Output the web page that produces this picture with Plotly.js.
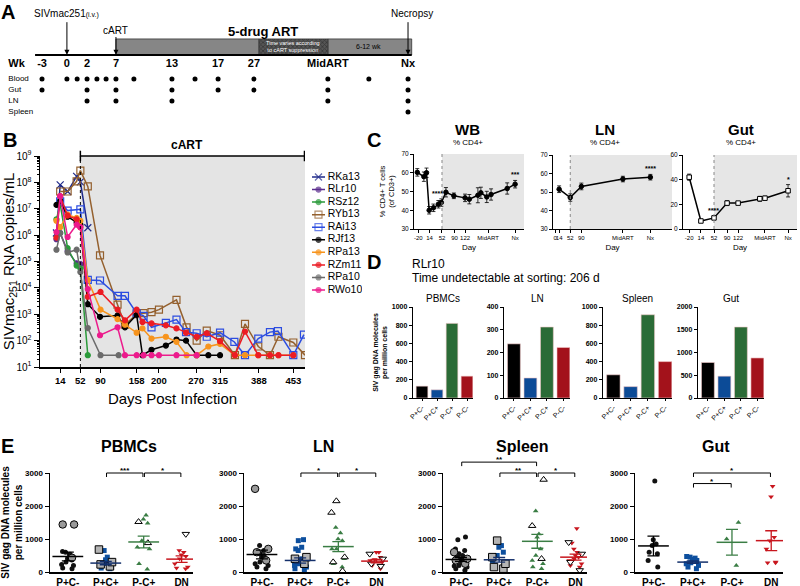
<!DOCTYPE html>
<html>
<head>
<meta charset="utf-8">
<script src="https://cdn.plot.ly/plotly-3.0.1.min.js"></script>
<style>
  html, body { margin: 0; padding: 0; background: #fff; }
  #fig { width: 800px; height: 586px; }
</style>
</head>
<body>
<div id="fig"></div>
<script>
// ---------- A: sampling schedule (schematic timeline positions) ----------
var tpWeek = ['-3', '0', '1', '2', '3', '4', '7', '9', '13', '15', '17', '27', 'MidART', 'post', 'Nx'];
var tpPos = [0, 6.8, 9.6, 12.3, 15, 17.5, 20.2, 25.1, 35.5, 41.8, 48.1, 57.9, 78.1, 89.3, 100];
var wkShown = ['-3', '0', '2', '7', '13', '17', '27', 'MidART', 'Nx'];
var bloodWk = ['-3', '0', '1', '2', '3', '4', '7', '9', '13', '15', '17', '27', 'MidART', 'post', 'Nx'];
var gutWk = ['-3', '2', '7', '13', '17', '27', 'MidART', 'Nx'];
var lnWk = ['2', '7', '13', 'MidART', 'Nx'];
var spleenWk = ['Nx'];
var rowNames = ['Blood', 'Gut', 'LN', 'Spleen'];
var artVaryStart = 59.3, artEndPos = 101;

// ---------- B: plasma viral load ----------
var rka13Day = [7, 14, 28, 45, 52, 66];
var rka13Vl = [1.2e6, 8e7, 4.5e7, 1.7e8, 1.05e8, 1.9e6];
var rlr10Day = [7, 14, 28, 45, 52];
var rlr10Vl = [7e5, 1.2e6, 2.5e5, 8.5e4, 8e4];
var rsz12Day = [7, 14, 28, 45, 52, 66];
var rsz12Vl = [4e6, 1.5e7, 3.2e5, 7e4, 5.5e4, 28];
var ryb13Day = [14, 28, 45, 52, 66, 89, 122, 136, 158, 171, 186, 200, 233, 252, 271, 290, 315, 343, 362, 387, 409, 425, 453, 475];
var ryb13Vl = [4.5e7, 4.5e7, 1.1e8, 2.8e8, 7e7, 1.7e5, 2.3e3, 4e2, 1e3, 1.1e3, 1.2e3, 1.5e3, 3.5e3, 3.2e2, 1e2, 2.4e2, 1.6e2, 28, 4.3e2, 60, 28, 1.4e2, 85, 28];
var rai13Day = [14, 28, 52, 66, 89, 122, 136, 158, 171, 186, 213, 233, 251, 271, 290, 315, 342, 362, 387, 409, 424, 453, 473];
var rai13Vl = [1.9e7, 8.5e6, 9.5e6, 2e4, 1.9e4, 5e3, 5e3, 1.1e3, 8.7e2, 3.2e2, 4.7e2, 6.3e2, 2.1e2, 1.9e2, 1.4e2, 2e2, 89, 28, 1.2e2, 2.1e2, 2.3e2, 28, 1.7e2];
var rjf13Day = [7, 14, 28, 45, 52, 66, 89, 122, 136, 158, 169, 186, 213, 233, 251, 271, 293, 315];
var rjf13Vl = [1.4e7, 2e7, 5e6, 3e6, 2.5e6, 2.4e3, 8e2, 9e2, 3.2e2, 9.5e2, 28, 45, 65, 1.1e2, 1e2, 28, 28, 28];
var rpa13Day = [7, 14, 28, 45, 52, 66, 90, 122, 136, 158, 169, 186, 213, 233, 252, 271, 293, 315, 343, 362, 387, 409, 425, 453];
var rpa13Vl = [3.5e6, 2e6, 6e6, 4.5e6, 3.5e6, 2e4, 1.5e3, 6.5e2, 4e2, 2e2, 2.9e2, 1.2e2, 1.4e2, 90, 28, 28, 60, 75, 28, 28, 28, 28, 28, 28];
var rzm11Day = [7, 14, 28, 45, 52, 66, 90, 122, 136, 158, 169, 186, 213, 233, 251, 271, 290, 315, 343, 362, 387, 409, 425, 453];
var rzm11Vl = [8e5, 3e7, 5.5e6, 4e6, 2e6, 4.6e3, 7e3, 1.5e3, 5.9e2, 1.5e3, 5.1e2, 4.5e2, 3.8e2, 2.9e2, 2e2, 1.4e2, 1.9e2, 95, 28, 2.2e2, 28, 28, 28, 28];
var rpa10Day = [7, 14, 28, 45, 52, 66, 90, 124];
var rpa10Vl = [2.8e5, 1.2e6, 2.2e5, 2.8e5, 4e4, 3e2, 28, 28];
var rwo10Day = [7, 14, 28, 45, 52, 66, 89, 122, 136, 158, 171, 186, 200, 233, 271];
var rwo10Vl = [1.3e6, 3e7, 8.5e5, 2.5e6, 2e6, 9e3, 1.6e2, 3.2e2, 28, 28, 28, 28, 28, 28, 28];
var animals = ['RKa13', 'RLr10', 'RSz12', 'RYb13', 'RAi13', 'RJf13', 'RPa13', 'RZm11', 'RPa10', 'RWo10'];
var bDays = [rka13Day, rlr10Day, rsz12Day, ryb13Day, rai13Day, rjf13Day, rpa13Day, rzm11Day, rpa10Day, rwo10Day];
var bLoads = [rka13Vl, rlr10Vl, rsz12Vl, ryb13Vl, rai13Vl, rjf13Vl, rpa13Vl, rzm11Vl, rpa10Vl, rwo10Vl];
var bTicks = [14, 52, 90, 158, 200, 270, 315, 388, 453];
var artDay = 52;
var detectLimit = 60;

// ---------- C: %CD4+ (x: days; MidART / Nx placed as on the original axes) ----------
var wbX = [-23, -3, 5, 13, 26, 41, 50, 64, 88, 122, 135, 161, 170, 188, 201, 250, 274];
var wbPct = [60.2, 57.9, 60, 40, 41.3, 43.2, 44.1, 49.6, 47.7, 46.6, 45.9, 48, 49.3, 47.1, 48.4, 51.6, 53.9];
var wbErr = [2, 2.5, 2.5, 2, 2, 2, 2, 2.5, 1.5, 2, 2.5, 4, 3, 3, 3, 3, 2];
var wbTickX = [-20, 14, 52, 90, 122, 192, 274];
var wbTickTxt = ['-20', '14', '52', '90', '122', 'MidART', 'Nx'];
var lnX = [14, 52, 90, 232, 326];
var lnPct = [51.5, 47, 53, 57, 58];
var lnErr = [1.8, 2, 1.8, 1.5, 1.5];
var lnTickX = [0, 14, 52, 90, 232, 326];
var lnTickTxt = ['0', '14', '52', '90', 'MidART', 'Nx'];
var gutX = [-20, 14, 52, 90, 122, 185, 200, 267];
var gutPct = [42, 6.5, 9, 21, 21, 24.5, 25, 31];
var gutErr = [2.5, 1, 1.5, 2, 1, 2, 1.5, 5];
var gutTickX = [-20, 14, 52, 90, 122, 200, 267];
var gutTickTxt = ['-20', '14', '52', '90', '122', 'MidART', 'Nx'];

// ---------- D: sorted subsets, RLr10 ----------
var dCats = ['P+C-', 'P+C+', 'P-C+', 'P-C-'];
var dPbmc = [130, 90, 820, 240];
var dLn = [238, 88, 312, 222];
var dSpleen = [255, 125, 915, 400];
var dGut = [780, 480, 1560, 880];

// ---------- E: all animals ----------
var eCats = ['P+C-', 'P+C+', 'P-C+', 'DN'];
var ePbmcSolid = [[620, 600, 540, 410, 360, 300, 230, 200, 120, 100], [650, 450, 370, 280, 260, 200, 150, 120, 100], [1720, 1600, 1480, 950, 750, 700, 250, 80], [650, 600, 520, 480, 400, 250, 150, 120, 100]];
var ePbmcOpen = [[1440, 1440, 430], [680, 300, 230, 170], [1520, 880], [1150]];
var ePbmcMean = [470, 270, 910, 390];
var ePbmcSem = [130, 50, 180, 100];
var eLnSolid = [[800, 650, 600, 550, 500, 450, 400, 300, 250, 200, 150, 100], [980, 950, 750, 700, 650, 400, 350, 300, 250, 200, 150, 100, 50], [1350, 1180, 1000, 950, 700, 700, 400, 250, 150], [600, 600, 450, 380, 350, 300, 200, 100]];
var eLnOpen = [[2520, 700, 600, 350], [450, 400, 250], [2150, 1800, 450, 300, 30], [550, 400, 250, 180]];
var eLnMean = [530, 350, 770, 330];
var eLnSem = [130, 80, 150, 50];
var eSpleenSolid = [[1060, 980, 700, 650, 550, 500, 450, 420, 380, 320, 300, 200, 180, 150, 100, 50], [930, 800, 750, 600, 500, 350, 300, 200, 100], [1850, 1150, 1050, 700, 500, 350, 250, 150, 100], [1320, 880, 700, 600, 500, 450, 400, 350, 250, 200, 150]];
var eSpleenOpen = [[600, 400, 350, 250], [950, 450, 250, 150, 100], [2800, 1400, 400], [900, 550, 300, 50]];
var eSpleenMean = [380, 370, 930, 450];
var eSpleenSem = [60, 70, 210, 90];
var eGutSolid = [[2760, 980, 850, 800, 600, 550, 350, 150], [470, 450, 420, 380, 350, 280, 250, 200, 150, 100], [1500, 1000, 200], [2600, 2280, 1050, 950, 700, 300, 280, 280]];
var eGutOpen = [[], [], [], []];
var eGutMean = [790, 300, 900, 950];
var eGutSem = [300, 40, 390, 300];
// significance bars: [from, to, label, height]
var ePbmcSig = [[1, 2, '***', 3000], [2, 3, '*', 3000]];
var eLnSig = [[1, 2, '*', 3000], [2, 3, '*', 3000]];
var eSpleenSig = [[0, 2, '**', 3330], [1, 2, '**', 3000], [2, 3, '*', 3000]];
var eGutSig = [[1, 3, '*', 3000], [1, 2, '*', 2680]];

// ---------- layout helpers ----------
var FONT = 'Liberation Sans, Arial, sans-serif';
var W = 800, H = 586;
function xd(a, b) { return [a / W, b / W]; }
function yd(t, b) { return [1 - b / H, 1 - t / H]; }
function posOf(w) { return tpPos[tpWeek.indexOf(w)]; }

var traces = [];
var shapes = [];
var ann = [];
var layout = {
  width: W, height: H,
  margin: {l: 0, r: 0, t: 0, b: 0},
  showlegend: false,
  paper_bgcolor: '#fff', plot_bgcolor: 'rgba(0,0,0,0)',
  font: {family: FONT, color: '#000'},
  barmode: 'overlay', boxmode: 'overlay', bargap: 0.22,
  shapes: shapes, annotations: ann
};

function axis(o) {
  var a = {showline: true, linecolor: '#000', linewidth: 1, ticks: 'outside', ticklen: 3,
    tickcolor: '#000', tickwidth: 1, showgrid: false, zeroline: false, fixedrange: true,
    tickfont: {size: 7, family: FONT}};
  for (var k in o) a[k] = o[k];
  return a;
}
function label(x, y, text, size, bold, xanchor) {
  ann.push({xref: 'paper', yref: 'paper', x: x / W, y: 1 - y / H, text: text, showarrow: false,
    xanchor: xanchor || 'center', yanchor: 'middle',
    font: {size: size, family: FONT, weight: bold ? 'bold' : 'normal', color: '#000'}});
}

// ================= Panel A =================
layout.xaxis = {domain: xd(0, 460), range: [-11.48, 114.2], visible: false, anchor: 'y', fixedrange: true};
layout.yaxis = {domain: yd(0, 122), range: [4.91, -6.18], visible: false, anchor: 'x', fixedrange: true};

var barY = -1.91;
// solid ART phases
traces.push({
  type: 'bar', orientation: 'h', xaxis: 'x', yaxis: 'y',
  y: [barY, barY],
  base: [posOf('7'), posOf('MidART')],
  x: [artVaryStart - posOf('7'), artEndPos - posOf('MidART')],
  width: 1.46,
  marker: {color: '#868686', line: {color: '#333', width: 0.8}},
  hoverinfo: 'skip'
});
// variable-length phase (hatched)
traces.push({
  type: 'bar', orientation: 'h', xaxis: 'x', yaxis: 'y',
  y: [barY], base: [artVaryStart], x: [posOf('MidART') - artVaryStart],
  width: 1.46,
  marker: {color: '#555555', line: {color: '#333', width: 0.8},
    pattern: {shape: 'x', fgcolor: '#1a1a1a', fillmode: 'overlay', size: 3, solidity: 0.45}},
  hoverinfo: 'skip'
});
shapes.push({type: 'line', xref: 'x', yref: 'y', x0: -1.9, x1: artEndPos, y0: -1.18, y1: -1.18,
  line: {color: '#000', width: 2}});

traces.push({
  type: 'scatter', mode: 'text', xaxis: 'x', yaxis: 'y',
  x: wkShown.map(posOf), y: wkShown.map(function () { return -0.36; }),
  text: wkShown, textfont: {size: 11, family: FONT, weight: 'bold'}, hoverinfo: 'skip'
});
traces.push({
  type: 'scatter', mode: 'text', xaxis: 'x', yaxis: 'y', x: [-9.2], y: [-0.36], text: ['Wk'],
  textposition: 'middle right', textfont: {size: 11, family: FONT, weight: 'bold'}, hoverinfo: 'skip'
});
traces.push({
  type: 'scatter', mode: 'text', xaxis: 'x', yaxis: 'y',
  x: rowNames.map(function () { return -9.2; }), y: [1, 2, 3, 4], text: rowNames,
  textposition: 'middle right', textfont: {size: 8, family: FONT}, hoverinfo: 'skip'
});
[bloodWk, gutWk, lnWk, spleenWk].forEach(function (wks, r) {
  traces.push({
    type: 'scatter', mode: 'markers', xaxis: 'x', yaxis: 'y',
    x: wks.map(posOf), y: wks.map(function () { return r + 1; }),
    marker: {color: '#000', size: 5}, hoverinfo: 'skip'
  });
});
function arrowA(pos, top) {
  ann.push({xref: 'x', yref: 'y', axref: 'x', ayref: 'y', x: pos, y: -1.2, ax: pos, ay: top,
    text: '', showarrow: true, arrowhead: 2, arrowsize: 1, arrowwidth: 1, arrowcolor: '#000'});
}
arrowA(posOf('0'), -4.3);
arrowA(posOf('7'), -2.95);
arrowA(posOf('Nx'), -4.3);
ann.push({xref: 'x', yref: 'y', x: posOf('0'), y: -4.95, text: 'SIVmac251<span style="font-size:7px">(i.v.)</span>',
  showarrow: false, font: {size: 10, family: FONT}, xanchor: 'center', yanchor: 'middle'});
ann.push({xref: 'x', yref: 'y', x: posOf('Nx') + 1, y: -4.95, text: 'Necropsy',
  showarrow: false, font: {size: 10, family: FONT}, xanchor: 'center', yanchor: 'middle'});
ann.push({xref: 'x', yref: 'y', x: posOf('7'), y: -3.4, text: 'cART',
  showarrow: false, font: {size: 10, family: FONT}, xanchor: 'center', yanchor: 'middle'});
ann.push({xref: 'x', yref: 'y', x: 60.5, y: -3.3, text: '5-drug ART',
  showarrow: false, font: {size: 13, family: FONT, weight: 'bold'}, xanchor: 'center', yanchor: 'middle'});
ann.push({xref: 'x', yref: 'y', x: (artVaryStart + posOf('MidART')) / 2, y: barY,
  text: 'Time varies according<br>to cART suppression', showarrow: false,
  font: {size: 5.5, family: FONT, color: '#fff'}, xanchor: 'center', yanchor: 'middle'});
ann.push({xref: 'x', yref: 'y', x: posOf('post'), y: barY, text: '6-12 wk', showarrow: false,
  font: {size: 7, family: FONT}, xanchor: 'center', yanchor: 'middle'});

// ================= Panel B =================
var bColors = ['#1f2a8a', '#5b2d8e', '#2a9a3a', '#94602e', '#2c4de0', '#000000', '#f7941d', '#ec1c24', '#6b6b6b', '#ec1b8c'];
var bSymbols = ['x-thin-open', 'circle', 'circle', 'square-open', 'square-open', 'circle', 'circle', 'circle', 'circle', 'circle'];
var bSizes = [7, 5, 5, 7, 7, 5, 5, 5, 5, 5];

layout.xaxis2 = axis({domain: xd(40, 305), range: [-24, 475], anchor: 'y2', linewidth: 1.5, ticklen: 4,
  tickmode: 'array', tickvals: bTicks, tickfont: {size: 9.5, family: FONT, weight: 'bold'},
  title: {text: 'Days Post Infection', font: {size: 15, family: FONT}, standoff: 8}});
layout.yaxis2 = axis({domain: yd(156, 367), type: 'log', range: [1, 9], anchor: 'x2', linewidth: 1.5, ticklen: 5,
  tickmode: 'array', tickvals: [1e1, 1e2, 1e3, 1e4, 1e5, 1e6, 1e7, 1e8, 1e9],
  ticktext: ['10<sup>1</sup>', '10<sup>2</sup>', '10<sup>3</sup>', '10<sup>4</sup>', '10<sup>5</sup>', '10<sup>6</sup>', '10<sup>7</sup>', '10<sup>8</sup>', '10<sup>9</sup>'],
  tickfont: {size: 10, family: FONT},
  minor: {ticks: 'outside', ticklen: 2, tickcolor: '#000', dtick: 'D1'},
  title: {text: 'SIVmac<sub>251</sub> RNA copies/mL', font: {size: 15, family: FONT}, standoff: 6}});

shapes.push({type: 'rect', xref: 'x2', yref: 'y2 domain', x0: artDay, x1: 475, y0: 0, y1: 1,
  fillcolor: '#e4e4e4', line: {width: 0}, layer: 'below'});
shapes.push({type: 'line', xref: 'x2', yref: 'y2 domain', x0: artDay, x1: artDay, y0: 0, y1: 1,
  line: {color: '#000', width: 1, dash: 'dot'}});
shapes.push({type: 'line', xref: 'x2 domain', yref: 'y2', x0: 0, x1: 1, y0: Math.log10(detectLimit), y1: Math.log10(detectLimit),
  line: {color: '#000', width: 1, dash: 'dot'}});
shapes.push({type: 'line', xref: 'x2', yref: 'y2 domain', x0: artDay, x1: 474, y0: 1, y1: 1,
  line: {color: '#000', width: 1.5}});
shapes.push({type: 'line', xref: 'x2', yref: 'y2 domain', x0: artDay, x1: artDay, y0: 0.975, y1: 1.025,
  line: {color: '#000', width: 1.5}});
shapes.push({type: 'line', xref: 'x2', yref: 'y2 domain', x0: 474, x1: 474, y0: 0.975, y1: 1.025,
  line: {color: '#000', width: 1.5}});
ann.push({xref: 'x2', yref: 'y2 domain', x: 252, y: 1, yanchor: 'bottom', yshift: 2, text: 'cART',
  showarrow: false, font: {size: 12, family: FONT, weight: 'bold'}});

animals.forEach(function (name, i) {
  traces.push({
    type: 'scatter', mode: 'lines+markers', xaxis: 'x2', yaxis: 'y2', name: name,
    x: bDays[i], y: bLoads[i],
    line: {color: bColors[i], width: 1.5},
    marker: {color: bColors[i], symbol: bSymbols[i], size: bSizes[i], line: {color: bColors[i], width: 1.2}},
    hoverinfo: 'skip'
  });
});

// legend drawn on its own small axis
layout.xaxis3 = {domain: xd(312, 362), range: [0, 4], visible: false, anchor: 'y3', fixedrange: true};
layout.yaxis3 = {domain: yd(170.7, 296.3), range: [9.5, -0.5], visible: false, anchor: 'x3', fixedrange: true};
animals.forEach(function (name, i) {
  traces.push({
    type: 'scatter', mode: 'lines+markers', xaxis: 'x3', yaxis: 'y3',
    x: [0, 0.52, 1.04], y: [i, i, i],
    line: {color: bColors[i], width: 1.5},
    marker: {color: bColors[i], symbol: bSymbols[i], size: [0, bSizes[i], 0], line: {color: bColors[i], width: 1.2}},
    hoverinfo: 'skip'
  });
});
traces.push({
  type: 'scatter', mode: 'text', xaxis: 'x3', yaxis: 'y3',
  x: animals.map(function () { return 1.25; }), y: animals.map(function (n, i) { return i; }),
  text: animals, textposition: 'middle right', textfont: {size: 10.5, family: FONT}, hoverinfo: 'skip'
});

// ================= Panel C =================
function cPanel(n, dom, xr, yr, dtick, tx, tt, xs, ys, es, filled, ytitle) {
  var xa = 'x' + n, ya = 'y' + n;
  layout['xaxis' + n] = axis({domain: dom[0], range: xr, anchor: ya, tickmode: 'array', tickvals: tx, ticktext: tt,
    tickangle: 0, tickfont: {size: 6, family: FONT},
    title: {text: 'Day', font: {size: 8, family: FONT}, standoff: 4}});
  layout['yaxis' + n] = axis({domain: dom[1], range: yr, anchor: xa, dtick: dtick, tickfont: {size: 6.5, family: FONT},
    title: ytitle ? {text: ytitle, font: {size: 7.5, family: FONT}, standoff: 5} : undefined});
  shapes.push({type: 'rect', xref: xa, yref: ya + ' domain', x0: artDay, x1: xr[1], y0: 0, y1: 1,
    fillcolor: '#e6e6e6', line: {width: 0}, layer: 'below'});
  shapes.push({type: 'line', xref: xa, yref: ya + ' domain', x0: artDay, x1: artDay, y0: 0, y1: 1,
    line: {color: '#888', width: 1, dash: 'dot'}});
  traces.push({
    type: 'scatter', mode: 'lines+markers', xaxis: xa, yaxis: ya, x: xs, y: ys,
    error_y: {type: 'data', array: es, color: '#000', thickness: 0.8, width: 2},
    line: {color: '#000', width: 1.5},
    marker: {color: filled ? '#000' : '#fff', symbol: filled ? 'circle' : 'square', size: 4.5, line: {color: '#000', width: 1}},
    hoverinfo: 'skip'
  });
}
cPanel(4, [xd(414, 524), yd(154, 229)], [-33, 301], [30, 70], 10, wbTickX, wbTickTxt, wbX, wbPct, wbErr, true, '% CD4+ T cells<br>(of CD3+)');
cPanel(5, [xd(553, 672), yd(155, 229)], [-7, 400], [30, 70], 10, lnTickX, lnTickTxt, lnX, lnPct, lnErr, true, null);
cPanel(6, [xd(683, 797), yd(155, 229)], [-38, 293], [0, 60], 20, gutTickX, gutTickTxt, gutX, gutPct, gutErr, false, null);

function star(xa, ya, x, y, t) {
  ann.push({xref: xa, yref: ya, x: x, y: y, text: t, showarrow: false, yanchor: 'bottom',
    font: {size: 7, family: FONT, weight: 'bold'}});
}
star('x4', 'y4', 38, 46, '****');
star('x4', 'y4', 274, 56, '***');
star('x5', 'y5', 326, 59.5, '****');
star('x6', 'y6', 50, 10.5, '****');
star('x6', 'y6', 267, 36, '*');

label(467, 129, 'WB', 15, true);
label(605, 129, 'LN', 15, true);
label(741, 129, 'Gut', 15, true);
label(468, 142, '% CD4+', 8, false);
label(605, 142, '% CD4+', 8, false);
label(741, 142, '% CD4+', 8, false);

// ================= Panel D =================
var dColors = ['#000000', '#0c4b97', '#2b6b36', '#a3121b'];
function dPanel(n, dom, vals, ymax, dtick, title, ytitle) {
  var xa = 'x' + n, ya = 'y' + n;
  layout['xaxis' + n] = axis({domain: dom[0], range: [-0.6, 3.4], anchor: ya, type: 'category',
    tickangle: -45, ticklen: 2, tickfont: {size: 7, family: FONT}});
  layout['yaxis' + n] = axis({domain: dom[1], range: [0, ymax], anchor: xa, dtick: dtick, linewidth: 1.2,
    tickfont: {size: 7, family: FONT, weight: 'bold'},
    title: ytitle ? {text: ytitle, font: {size: 7, family: FONT, weight: 'bold'}, standoff: 3} : undefined});
  traces.push({type: 'bar', xaxis: xa, yaxis: ya, x: dCats, y: vals,
    marker: {color: dColors, line: {color: '#f2c9c9', width: 0.6}}, hoverinfo: 'skip'});
  ann.push({xref: xa + ' domain', yref: ya + ' domain', x: 0.5, y: 1, yshift: 9, text: title, showarrow: false,
    font: {size: 10, family: FONT}, yanchor: 'middle'});
}
dPanel(7, [xd(413, 473), yd(307, 398)], dPbmc, 1000, 200, 'PBMCs', 'SIV gag DNA molecules<br>per million cells');
dPanel(8, [xd(504, 570), yd(307, 398)], dLn, 400, 100, 'LN', null);
dPanel(9, [xd(603, 672), yd(307, 398)], dSpleen, 1000, 200, 'Spleen', null);
dPanel(10, [xd(698, 764), yd(307, 398)], dGut, 2000, 500, 'Gut', null);
label(410, 264, 'RLr10', 12, false, 'left');
label(410, 278, 'Time undetectable at sorting: 206 d', 12, false, 'left');

// ================= Panel E =================
var eSolidColor = ['#111111', '#0d4f9e', '#3a7d44', '#c8161e'];
var eLineColor = ['#000000', '#14306b', '#3a7d44', '#c8161e'];
var eSymbol = ['circle', 'square', 'triangle-up', 'triangle-down'];
var eOpenFill = ['#9a9a9a', '#b4b4b4', '#ffffff', '#ffffff'];
function ePanel(n, dom, solid, open, mean, sem, sig, title, ytitle) {
  var xa = 'x' + n, ya = 'y' + n;
  layout['xaxis' + n] = axis({domain: dom[0], range: [-0.47, 3.3], anchor: ya, type: 'category', linewidth: 1.5,
    ticks: '', tickfont: {size: 10, family: FONT, weight: 'bold'}});
  layout['yaxis' + n] = axis({domain: dom[1], range: [0, 3000], anchor: xa, dtick: 1000, linewidth: 1.5, ticklen: 4,
    tickfont: {size: 8, family: FONT, weight: 'bold'},
    title: ytitle ? {text: ytitle, font: {size: 10, family: FONT, weight: 'bold'}, standoff: 6} : undefined});
  eCats.forEach(function (cat, c) {
    if (solid[c].length) traces.push({
      type: 'box', orientation: 'v', xaxis: xa, yaxis: ya, x: solid[c].map(function () { return cat; }), y: solid[c],
      boxpoints: 'all', jitter: 0.85, pointpos: 0, width: 0.5, fillcolor: 'rgba(0,0,0,0)', line: {width: 0},
      marker: {symbol: eSymbol[c], size: 5, color: eSolidColor[c], line: {width: 0}}, hoverinfo: 'skip'
    });
    if (open[c].length) traces.push({
      type: 'box', orientation: 'v', xaxis: xa, yaxis: ya, x: open[c].map(function () { return cat; }), y: open[c],
      boxpoints: 'all', jitter: 0.85, pointpos: 0, width: 0.5, fillcolor: 'rgba(0,0,0,0)', line: {width: 0},
      marker: {symbol: eSymbol[c], size: c < 2 ? 7.5 : 6.5, color: eOpenFill[c], line: {color: '#000', width: 1}}, hoverinfo: 'skip'
    });
    traces.push({
      type: 'scatter', mode: 'markers', xaxis: xa, yaxis: ya, x: [cat], y: [mean[c]],
      error_y: {type: 'data', array: [sem[c]], color: eLineColor[c], thickness: 1.3, width: 6},
      marker: {symbol: 'line-ew-open', size: 22, color: eLineColor[c], line: {color: eLineColor[c], width: 1.5}},
      hoverinfo: 'skip'
    });
  });
  var d = dom[1];
  sig.forEach(function (s) {
    var yp = d[0] + s[3] / 3000 * (d[1] - d[0]);
    var tick = 4 / H;
    var a = s[0] + 0.02, b = s[1] - 0.02;
    shapes.push({type: 'line', xref: xa, yref: 'paper', x0: a, x1: b, y0: yp, y1: yp, line: {color: '#000', width: 1}});
    shapes.push({type: 'line', xref: xa, yref: 'paper', x0: a, x1: a, y0: yp, y1: yp - tick, line: {color: '#000', width: 1}});
    shapes.push({type: 'line', xref: xa, yref: 'paper', x0: b, x1: b, y0: yp, y1: yp - tick, line: {color: '#000', width: 1}});
    ann.push({xref: xa, yref: 'paper', x: (s[0] + s[1]) / 2, y: yp, yanchor: 'bottom', yshift: -4, text: s[2],
      showarrow: false, font: {size: 8, family: FONT, weight: 'bold'}});
  });
  ann.push({xref: xa + ' domain', yref: 'paper', x: 0.55, y: 1 - 446 / H, text: title, showarrow: false,
    font: {size: 16, family: FONT, weight: 'bold'}, yanchor: 'middle'});
}
ePanel(11, [xd(50, 193), yd(473, 572)], ePbmcSolid, ePbmcOpen, ePbmcMean, ePbmcSem, ePbmcSig, 'PBMCs', 'SIV gag DNA molecules<br>per million cells');
ePanel(12, [xd(244, 388), yd(473, 572)], eLnSolid, eLnOpen, eLnMean, eLnSem, eLnSig, 'LN', null);
ePanel(13, [xd(443, 587), yd(473, 572)], eSpleenSolid, eSpleenOpen, eSpleenMean, eSpleenSem, eSpleenSig, 'Spleen', null);
ePanel(14, [xd(635, 783), yd(473, 572)], eGutSolid, eGutOpen, eGutMean, eGutSem, eGutSig, 'Gut', null);

// panel letters
label(8, 12, 'A', 20, true);
label(10, 140, 'B', 20, true);
label(374, 140, 'C', 20, true);
label(374, 262, 'D', 20, true);
label(7, 446, 'E', 20, true);

Plotly.newPlot('fig', traces, layout, {staticPlot: true});
</script>
</body>
</html>
